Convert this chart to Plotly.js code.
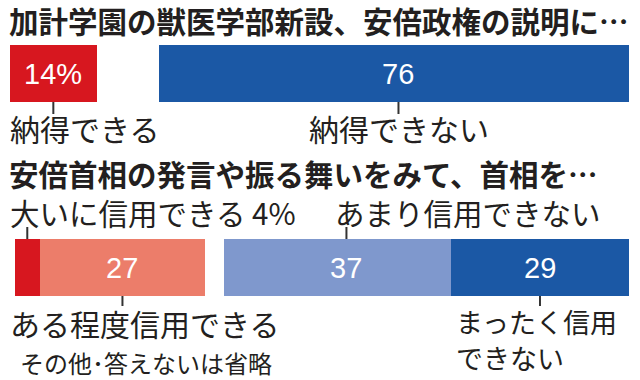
<!DOCTYPE html>
<html><head><meta charset="utf-8">
<script src="https://cdn.plot.ly/plotly-3.0.1.min.js"></script>
<style>html,body{margin:0;padding:0;background:#fff}#chart{width:640px;height:380px}</style>
</head><body><div id="chart"></div>
<script>
// ---- data ----
const q1Title = '加計学園の獣医学部新設、安倍政権の説明に…';
const q1Categories = ['納得できる', '納得できない'];
const q1Values = [14, 76];
const q1ValueText = ['14%', '76'];
const q2Title = '安倍首相の発言や振る舞いをみて、首相を…';
const q2Categories = ['大いに信用できる 4%', 'ある程度信用できる', 'あまり信用できない', 'まったく信用', 'できない'];
const q2Values = [4, 27, 37, 29];
const q2ValueText = ['4%', '27', '37', '29'];
const note = 'その他･答えないは省略';

// ---- styles ----
const RED = '#d7171f', SALMON = '#ec7d6a', LBLUE = '#7f98cd', DBLUE = '#1b58a5';
const TXT = '#231f20';
const JP = '"Noto Sans CJK JP", "Noto Sans", sans-serif';
const NUM = '"Liberation Sans Narrow", "Arial Narrow", "Liberation Sans", Arial, sans-serif';
const W = 640, H = 380;
const py = p => 1 - p / H;
const px = p => p / W;

// build stacked segments with a transparent gap for "other"
function segments(values, colors, gapAfter) {
  const total = values.reduce((a, b) => a + b, 0);
  const gap = 100 - total;
  const out = [];
  let cum = 0;
  values.forEach((v, i) => {
    out.push({ v, color: colors[i], start: cum, idx: i });
    cum += v;
    if (i === gapAfter) { out.push({ v: gap, color: 'rgba(0,0,0,0)', start: cum, idx: -1 }); cum += gap; }
  });
  return out;
}
const s1 = segments(q1Values, [RED, DBLUE], 0);
const s2 = segments(q2Values, [RED, SALMON, LBLUE, DBLUE], 1);

const traces = [];
function addTraces(segs, xa, ya) {
  segs.forEach(s => traces.push({
    type: 'bar', orientation: 'h', x: [s.v], y: [0], width: 1,
    xaxis: xa, yaxis: ya, marker: { color: s.color, line: { width: 0 } },
    hoverinfo: 'skip', showlegend: false
  }));
}
addTraces(s1, 'x', 'y');
addTraces(s2, 'x2', 'y2');

const annotations = [];
const shapes = [];
// position of the number/tick inside a segment (fraction of its width)
const pos = (s, f) => s.start + s.v * (f === undefined ? 0.5 : f);
function numText(segs, texts, xref, yref, fracs) {
  segs.filter(s => s.idx >= 0 && s.v >= 5).forEach(s => annotations.push({
    text: texts[s.idx], x: pos(s, fracs[s.idx]), y: 0, xref, yref,
    showarrow: false, xanchor: 'center', yanchor: 'middle',
    font: { family: NUM, size: 29, color: '#fff' }
  }));
}
numText(s1, q1ValueText, 'x', 'y', [0.5, 0.51]);
numText(s2, q2ValueText, 'x2', 'y2', [0.5, 0.5, 0.54, 0.5]);

function tick(seg, f, xref, y0, y1) {
  shapes.push({ type: 'line', xref, yref: 'paper', x0: pos(seg, f), x1: pos(seg, f),
    y0: py(y0), y1: py(y1), line: { color: '#333', width: 2 } });
}
const r1 = s1.filter(s => s.idx >= 0), r2 = s2.filter(s => s.idx >= 0);
tick(r1[0], 0.5, 'x', 102, 114);
tick(r1[1], 0.51, 'x', 102, 114);
tick(r2[0], 0.5, 'x2', 227, 239);
tick(r2[1], 0.5, 'x2', 296, 306);
tick(r2[2], 0.54, 'x2', 227, 239);
tick(r2[3], 0.5, 'x2', 296, 306);

function label(text, xp, yp, size, anchor, weight) {
  annotations.push({ text, x: px(xp), y: py(yp), xref: 'paper', yref: 'paper', showarrow: false,
    xanchor: anchor || 'left', yanchor: 'middle', align: 'left',
    font: { family: JP, size, color: TXT, weight: weight || 'normal' } });
}
label(q1Title, 7, 20, 29.5, 'left', 'bold');
label(q1Categories[0], 8, 128, 30);
label(q1Categories[1], 399, 128, 30, 'center');
label(q2Title, 7, 172.5, 29.5, 'left', 'bold');
label(q2Categories[0], 8, 212, 29.5);
label(q2Categories[2], 333, 212, 29.5);
label(q2Categories[1], 8, 323, 30);
label(note, 18, 362, 24);
label(q2Categories[3], 454, 321.5, 27);
label(q2Categories[4], 454, 357, 27);

const layout = {
  width: W, height: H, margin: { l: 0, r: 0, t: 0, b: 0 },
  paper_bgcolor: '#fff', plot_bgcolor: 'rgba(0,0,0,0)',
  barmode: 'stack', bargap: 0, showlegend: false,
  xaxis: { domain: [px(10), px(629)], range: [0, 100], visible: false, fixedrange: true, anchor: 'y' },
  yaxis: { domain: [py(102), py(45)], range: [-0.5, 0.5], visible: false, fixedrange: true, anchor: 'x' },
  xaxis2: { domain: [px(15), px(629)], range: [0, 100], visible: false, fixedrange: true, anchor: 'y2' },
  yaxis2: { domain: [py(296), py(239)], range: [-0.5, 0.5], visible: false, fixedrange: true, anchor: 'x2' },
  annotations, shapes
};
Plotly.newPlot('chart', traces, layout, { staticPlot: true, displayModeBar: false });
</script></body></html>
